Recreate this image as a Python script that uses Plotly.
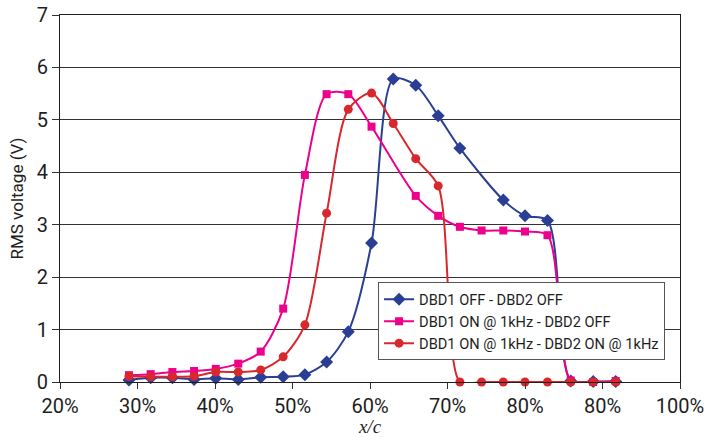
import plotly.graph_objects as go

# Chordwise position (fraction of chord) and RMS voltage for each actuator configuration
x_off_off = [0.289, 0.317, 0.345, 0.373, 0.401, 0.430, 0.459, 0.488, 0.516, 0.544, 0.572,
             0.602, 0.630, 0.659, 0.688, 0.716, 0.772, 0.800, 0.829, 0.859, 0.888, 0.917]
v_off_off = [0.04, 0.08, 0.08, 0.05, 0.07, 0.05, 0.09, 0.10, 0.14, 0.38, 0.96,
             2.65, 5.78, 5.66, 5.08, 4.46, 3.47, 3.17, 3.08, 0.02, 0.01, 0.01]

x_on_off = [0.289, 0.317, 0.345, 0.373, 0.401, 0.430, 0.459, 0.488, 0.516, 0.544, 0.572,
            0.602, 0.659, 0.688, 0.716, 0.744, 0.772, 0.800, 0.829, 0.859, 0.888, 0.917]
v_on_off = [0.13, 0.15, 0.19, 0.21, 0.25, 0.35, 0.58, 1.40, 3.95, 5.49, 5.49,
            4.87, 3.55, 3.17, 2.96, 2.89, 2.89, 2.87, 2.80, 0.03, 0.00, 0.02]

x_on_on = [0.289, 0.317, 0.345, 0.373, 0.401, 0.430, 0.459, 0.488, 0.516, 0.544, 0.572,
           0.602, 0.630, 0.659, 0.688, 0.716, 0.744, 0.772, 0.800, 0.829, 0.859, 0.888, 0.917]
v_on_on = [0.11, 0.10, 0.10, 0.11, 0.19, 0.19, 0.23, 0.48, 1.09, 3.22, 5.20,
           5.51, 4.93, 4.26, 3.74, 0.00, 0.00, 0.00, 0.00, 0.00, 0.00, 0.00, 0.00]

series_names = ["DBD1 OFF - DBD2 OFF",
                "DBD1 ON @ 1kHz - DBD2 OFF",
                "DBD1 ON @ 1kHz - DBD2 ON @ 1kHz"]

x_tick_vals = [0.2, 0.3, 0.4, 0.5, 0.6, 0.7, 0.8, 0.9, 1.0]
x_tick_text = ["20%", "30%", "40%", "50%", "60%", "70%", "80%", "80%", "100%"]
y_tick_vals = [0, 1, 2, 3, 4, 5, 6, 7]

BLUE = "#2a3f93"
PINK = "#ec008c"
RED = "#d9272e"
SANS = "Roboto, Liberation Sans, sans-serif"
INK = "#1e1e1e"

fig = go.Figure()
styles = [
    (x_off_off, v_off_off, BLUE, "diamond", 10),
    (x_on_off, v_on_off, PINK, "square", 8),
    (x_on_on, v_on_on, RED, "circle", 9),
]
for (xs, ys, color, symbol, size), name in zip(styles, series_names):
    fig.add_trace(go.Scatter(
        x=xs, y=ys, name=name, mode="lines+markers",
        line=dict(color=color, width=2, shape="spline", smoothing=0.8),
        marker=dict(color=color, symbol=symbol, size=size),
        cliponaxis=False,
    ))

fig.update_layout(
    width=704, height=437,
    margin=dict(l=60, r=24, t=15, b=55, autoexpand=False),
    paper_bgcolor="white", plot_bgcolor="white",
    font=dict(family=SANS, color=INK),
    showlegend=True,
    legend=dict(
        x=0.513, y=0.272, xanchor="left", yanchor="top",
        bgcolor="white", bordercolor="#555555", borderwidth=1,
        font=dict(family=SANS, size=14.6, color=INK),
        tracegroupgap=0, itemwidth=30,
    ),
)

fig.update_xaxes(
    range=[0.2, 1.0], tickvals=x_tick_vals, ticktext=x_tick_text,
    tickfont=dict(size=20, family=SANS, color=INK),
    ticklabeloverflow="allow", automargin=False,
    ticks="outside", ticklen=6, tickcolor="#333333",
    showline=True, linecolor=INK, linewidth=1, mirror=True,
    showgrid=False, zeroline=False,
    title=dict(text="x/c", standoff=4,
               font=dict(family="Liberation Serif, Times New Roman, serif",
                         size=19, style="italic", color=INK)),
)
fig.update_yaxes(
    range=[0, 7], tickvals=y_tick_vals, automargin=False,
    tickfont=dict(size=20, family=SANS, color=INK),
    ticks="outside", ticklen=7, tickcolor="#333333",
    showline=True, linecolor=INK, linewidth=1, mirror=True,
    showgrid=True, gridcolor="#333333", gridwidth=1, zeroline=False,
    title=dict(text="RMS voltage (V)", standoff=8,
               font=dict(family=SANS, size=17, color=INK)),
)

fig.write_html("out.html")
